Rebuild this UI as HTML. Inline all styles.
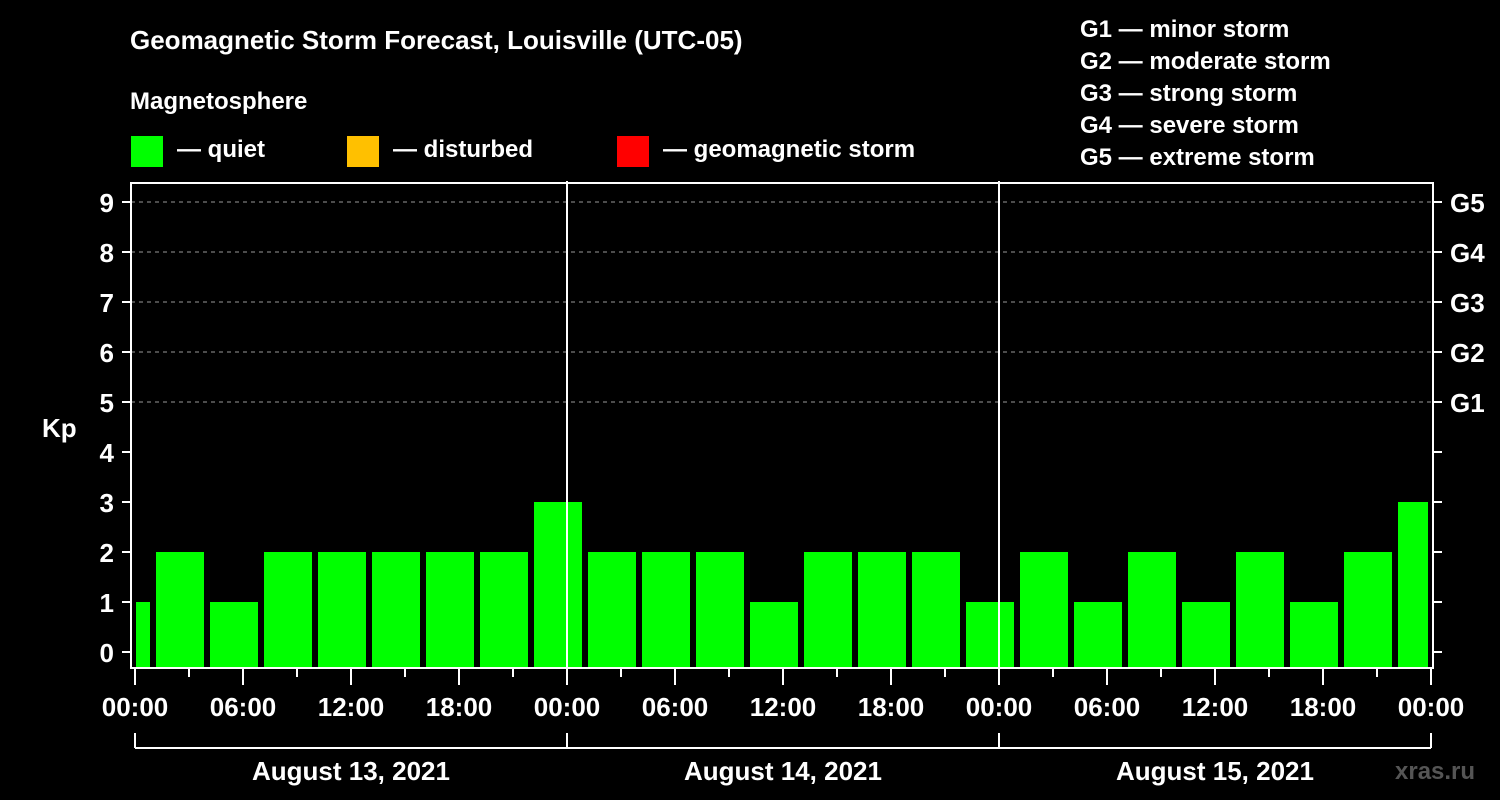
<!DOCTYPE html>
<html><head><meta charset="utf-8"><style>
body{margin:0;background:#000;}
svg{display:block;font-family:"Liberation Sans",Arial,sans-serif;font-weight:bold;fill:#fff;}
</style></head><body>
<svg id="chart" width="1500" height="800" viewBox="0 0 1500 800">
<text x="130" y="49" font-size="26">Geomagnetic Storm Forecast, Louisville (UTC-05)</text>
<text x="130" y="109" font-size="24">Magnetosphere</text>
<g><rect x="131" y="136" width="32" height="31" fill="#00ff00"/><text x="177" y="157" font-size="24">— quiet</text></g>
<g><rect x="347" y="136" width="32" height="31" fill="#ffc000"/><text x="393" y="157" font-size="24">— disturbed</text></g>
<g><rect x="617" y="136" width="32" height="31" fill="#ff0000"/><text x="663" y="157" font-size="24">— geomagnetic storm</text></g>
<g font-size="24">
<text x="1080" y="37">G1 — minor storm</text><text x="1080" y="69">G2 — moderate storm</text><text x="1080" y="101">G3 — strong storm</text><text x="1080" y="133">G4 — severe storm</text><text x="1080" y="165">G5 — extreme storm</text></g>
<text x="42" y="437" font-size="26">Kp</text>
<text x="1395" y="779" font-size="24" fill="#555" style="fill:#555">xras.ru</text>
<g id="grid"></g><g id="bars"></g><g id="axes"></g>
</svg>
<script>
const kpValues=[1,2,1,2,2,2,2,2,3,2,2,2,1,2,2,2,1,2,1,2,1,2,1,2,3];
const firstBinHour=-2;
const yTicks=[0,1,2,3,4,5,6,7,8,9];
const gLabels=["G1","G2","G3","G4","G5"];
const gLevels=[5,6,7,8,9];
const xTickLabels=["00:00","06:00","12:00","18:00","00:00","06:00","12:00","18:00","00:00","06:00","12:00","18:00","00:00"];
const dayLabels=["August 13, 2021","August 14, 2021","August 15, 2021"];
const NS="http://www.w3.org/2000/svg";
const X0=135,PXH=18,Y0=652,PXK=50,TOP=183,BOT=668,LEFT=131,RIGHT=1433;
const xs=h=>X0+h*PXH, ys=k=>Y0-k*PXK;
function mk(t,a,p){const e=document.createElementNS(NS,t);for(const k in a)e.setAttribute(k,a[k]);p.appendChild(e);return e;}
const grid=document.getElementById('grid'),bars=document.getElementById('bars'),axes=document.getElementById('axes');
gLevels.forEach((k,i)=>{
 const l=mk('line',{x1:LEFT,x2:RIGHT,y1:ys(k),y2:ys(k),stroke:'#999','stroke-dasharray':'4,4','stroke-width':1},grid);
 
 
 const t=mk('text',{x:1450,y:ys(k)+10,'font-size':26},axes);t.textContent=gLabels[i];
 
 
});
kpValues.forEach((v,i)=>{
 const h0=firstBinHour+i*3;
 let x1=xs(h0)+3,x2=xs(h0+3)-3;
 x1=Math.max(x1,X0+1);x2=Math.min(x2,xs(72)-3);
 const c=v>=5?'#ff0000':(v>=4?'#ffc000':'#00ff00');
 const r=mk('rect',{x:x1,y:ys(v),width:x2-x1,height:BOT-ys(v),fill:c},bars);
 
 
});
mk('rect',{x:LEFT,y:TOP,width:RIGHT-LEFT,height:BOT-TOP,fill:'none',stroke:'#fff','stroke-width':2},axes);
[1,2].forEach(d=>{const l=mk('line',{x1:xs(24*d),x2:xs(24*d),y1:181,y2:BOT,stroke:'#fff','stroke-width':2},axes);
 
 });
yTicks.forEach(k=>{
 mk('line',{x1:122,x2:LEFT,y1:ys(k),y2:ys(k),stroke:'#fff','stroke-width':2},axes);
 mk('line',{x1:RIGHT,x2:1442,y1:ys(k),y2:ys(k),stroke:'#fff','stroke-width':2},axes);
 const t=mk('text',{x:114,y:ys(k)+10,'font-size':26,'text-anchor':'end'},axes);t.textContent=k;
 
 
});
for(let h=0;h<=72;h+=3){
 const major=h%6===0;
 mk('line',{x1:xs(h),x2:xs(h),y1:BOT,y2:major?685:677,stroke:'#fff','stroke-width':2},axes);
}
xTickLabels.forEach((s,i)=>{
 const t=mk('text',{x:xs(i*6),y:716,'font-size':26,'text-anchor':'middle'},axes);t.textContent=s;
 
 
});
mk('line',{x1:xs(0),x2:xs(72),y1:748,y2:748,stroke:'#fff','stroke-width':2},axes);
for(let d=0;d<=3;d++)mk('line',{x1:xs(24*d),x2:xs(24*d),y1:733,y2:748,stroke:'#fff','stroke-width':2},axes);
dayLabels.forEach((s,i)=>{
 const t=mk('text',{x:xs(24*i+12),y:780,'font-size':26,'text-anchor':'middle'},axes);t.textContent=s;
 
 
});
</script>
</body></html>
